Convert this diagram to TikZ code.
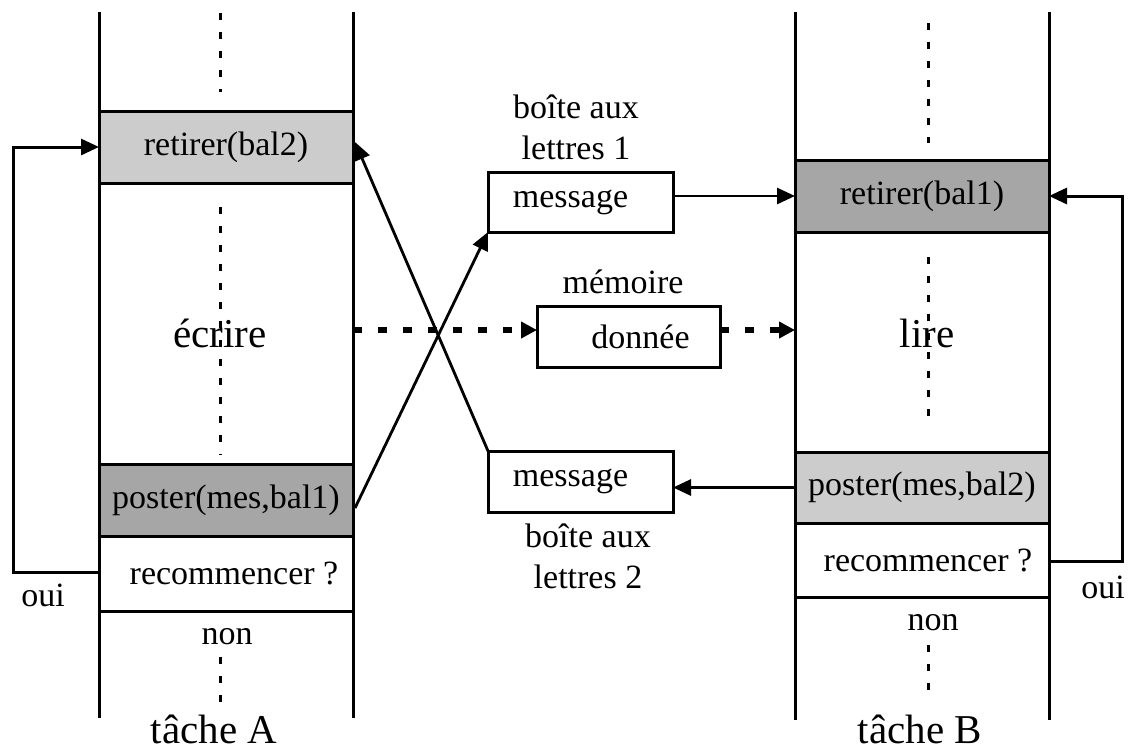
\documentclass[tikz,border=0pt]{standalone}
\usepackage{fontspec}
\setmainfont{Liberation Serif}
\usetikzlibrary{arrows.meta}
\definecolor{lightbox}{HTML}{CCCCCC}
\definecolor{darkbox}{HTML}{A6A6A6}

\begin{document}
\begin{tikzpicture}[x=0.5pt,y=-0.5pt,
  txt/.style={font=\fontsize{17pt}{20.5pt}\selectfont, inner sep=0pt, align=center},
  big/.style={font=\fontsize{20.5pt}{24pt}\selectfont, inner sep=0pt},
  opbox/.style={draw, line width=1.5pt, minimum width=127pt, minimum height=36pt,
                inner sep=0pt, outer sep=0pt, txt},
  mbox/.style={draw, line width=1.5pt, minimum width=92.5pt, minimum height=30pt,
               inner sep=0pt, outer sep=0pt, txt},
  lifeline/.style={line width=1.5pt},
  ellipsis/.style={line width=1.5pt, dash pattern=on 3.5pt off 6pt},
  link/.style={line width=1.4pt, -{Triangle[length=9pt,width=8pt]}},
  loop/.style={line width=1.5pt, -{Triangle[length=9pt,width=8pt]}},
  shared/.style={line width=2.6pt, dash pattern=on 4.5pt off 8pt,
                 -{Triangle[length=8pt,width=8pt]}}
]
\useasboundingbox (0,0) rectangle (1130,751);

% ---- task A ----
\node[opbox, fill=lightbox] (retA) at (226,147) {retirer(bal2)};
\node[opbox, fill=darkbox] (posA) at (226,500) {poster(mes,bal1)};
\node[opbox, minimum height=37.5pt] (recA) at (226,573.5) {\hspace*{8pt}recommencer ?};
\draw[lifeline] (99,12) -- (99,718);
\draw[lifeline] (353,12) -- (353,718);
\draw[ellipsis] (220,13) -- (220,92);
\draw[ellipsis] (220,207) -- (220,455);
\draw[ellipsis] (220,657) -- (220,703);
\node[big] (ecrire) at (220,333) {écrire};
\node[txt] (nonA) at (227,637) {non};
\node[big, anchor=base] (tacheA) at (214,743) {tâche A};
\node[txt] (ouiA) at (43,595) {oui};
\coordinate (loopA) at (13,572);
\draw[loop] (recA.west |- loopA) -- (loopA) |- (retA.west);

% ---- task B ----
\node[opbox, fill=darkbox] (retB) at (922,196) {retirer(bal1)};
\node[opbox, fill=lightbox, minimum height=35.5pt] (posB) at (922,487.5) {poster(mes,bal2)};
\node[opbox, minimum height=37pt] (recB) at (922,560) {\hspace*{6pt}recommencer ?};
\draw[lifeline] (795,12) -- (795,720);
\draw[lifeline] (1049,12) -- (1049,720);
\draw[ellipsis] (928,23) -- (928,143);
\draw[ellipsis] (928,257) -- (928,425);
\draw[ellipsis] (928,645) -- (928,690);
\node[big] (lire) at (927,333) {lire};
\node[txt] (nonB) at (933,623) {non};
\node[big, anchor=base] (tacheB) at (920,743) {tâche B};
\node[txt] (ouiB) at (1103,587) {oui};
\coordinate (loopB) at (1122,561);
\draw[loop] (recB.east |- loopB) -- (loopB) |- (retB.east);

% ---- mailboxes and shared memory ----
\node[mbox] (m1) at (580.5,202) {message\hspace*{10pt}};
\node[txt] (bal1) at (576,127) {boîte aux\\lettres 1};
\node[mbox, minimum width=91.5pt, minimum height=30.5pt] (mem) at (628.5,336.5) {\hspace*{12pt}donnée};
\node[txt] (memlab) at (623,282) {mémoire};
\node[mbox, minimum height=30.5pt] (m2) at (580.5,481.5) {message\hspace*{10pt}};
\node[txt] (bal2) at (588,556) {boîte aux\\lettres 2};

% ---- message flows ----
\draw[link] (m1.east |- retB.west) -- (retB.west);
\draw[link] (posB.west) -- (posB.west -| m2.east);
\coordinate (fromA) at (355,508);
\coordinate (toA) at (355,142);
\draw[link] (fromA) -- (m1.south west);
\draw[link] (m2.north west) -- (toA);

% ---- data flow through memory ----
\coordinate (dA) at (353,330);
\draw[shared] (dA) -- (dA -| mem.west);
\draw[shared] (mem.east |- dA) -- (retB.west |- dA);
\end{tikzpicture}
\end{document}
